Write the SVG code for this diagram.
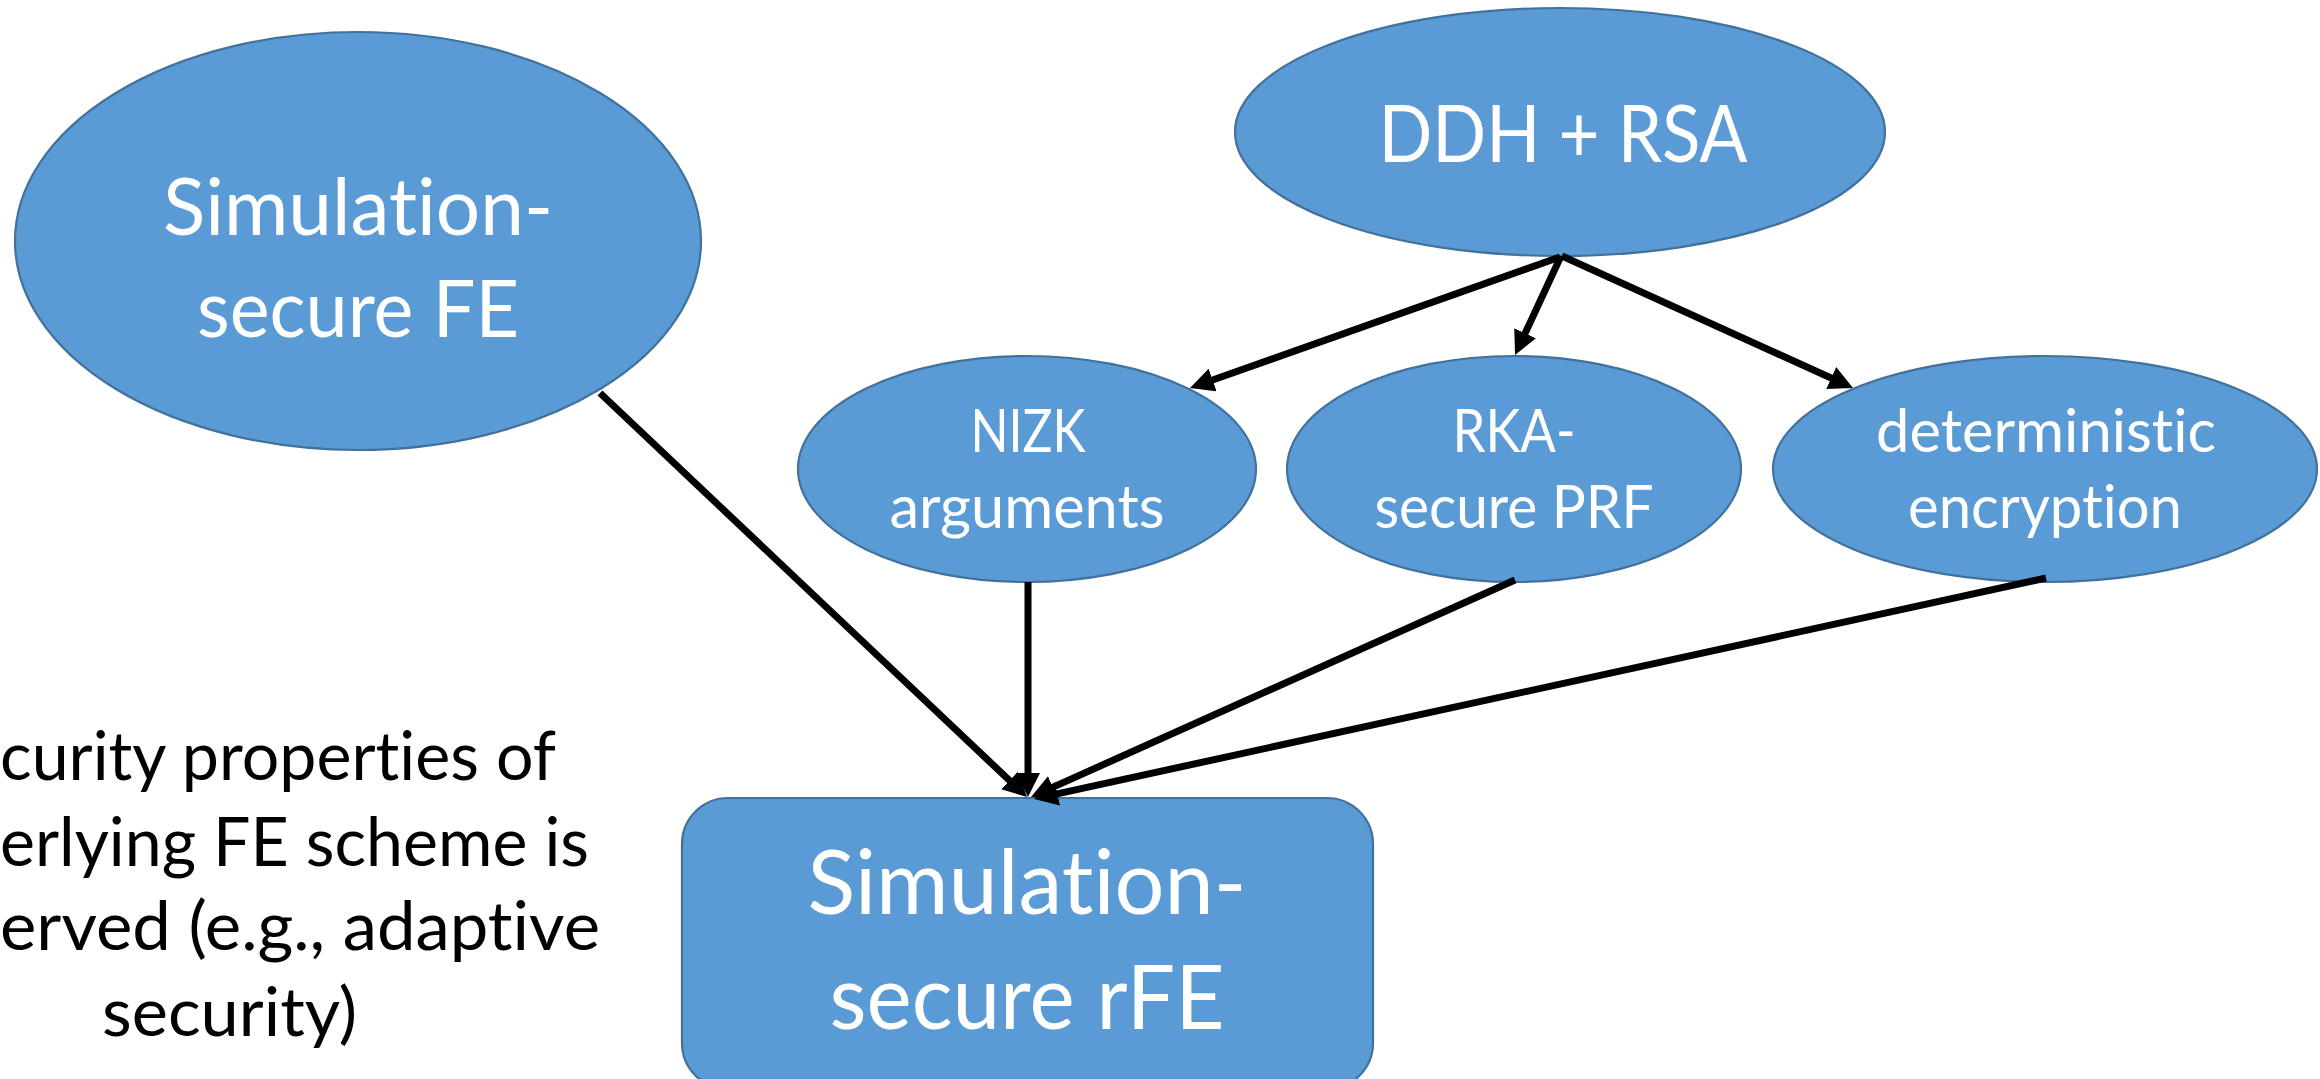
<svg xmlns="http://www.w3.org/2000/svg" width="2320" height="1079" viewBox="0 0 2320 1079">
  <style>
    .node { fill: #5B9BD5; stroke: #41719C; stroke-width: 2.2; }
    .lbl { fill: #FFFFFF; font-family: Lato, "Open Sans", "Liberation Sans", sans-serif; text-anchor: middle; font-variant-ligatures: none; }
    .big { font-size: 80px; }
    .small { font-size: 60px; }
    .huge { font-size: 90px; }
    .note { fill: #000000; font-family: Lato, "Open Sans", "Liberation Sans", sans-serif; font-size: 68px; font-variant-ligatures: none; }
    .edge { fill: none; stroke: #000000; stroke-width: 7; marker-end: url(#head); }
  </style>
  <defs>
    <marker id="head" markerUnits="userSpaceOnUse" markerWidth="28" markerHeight="28" refX="12" refY="12" orient="auto">
      <path d="M0,0 L24,12 L0,24 z" fill="#000000"/>
    </marker>
  </defs>

  <rect width="2320" height="1079" fill="#FFFFFF"/>

  <!-- side note, running off the left edge -->
  <g id="note">
    <text class="note" x="0" y="780" textLength="556" lengthAdjust="spacingAndGlyphs">curity properties of</text>
    <text class="note" x="0" y="866" textLength="589" lengthAdjust="spacingAndGlyphs">erlying FE scheme is</text>
    <text class="note" x="0" y="950" textLength="600" lengthAdjust="spacingAndGlyphs">erved (e.g., adaptive</text>
    <text class="note" x="229.5" y="1036" text-anchor="middle" textLength="255" lengthAdjust="spacingAndGlyphs">security)</text>
  </g>

  <g id="sim-fe">
    <ellipse class="node" cx="358" cy="241" rx="343" ry="209"/>
    <text class="lbl big" x="358" y="235" textLength="390" lengthAdjust="spacingAndGlyphs">Simulation-</text>
    <text class="lbl big" x="358" y="337" textLength="322" lengthAdjust="spacingAndGlyphs">secure FE</text>
  </g>

  <g id="ddh-rsa">
    <ellipse class="node" cx="1560" cy="132" rx="325" ry="124"/>
    <text class="lbl big" x="1563" y="162" textLength="369" lengthAdjust="spacingAndGlyphs">DDH + RSA</text>
  </g>

  <g id="nizk">
    <ellipse class="node" cx="1027" cy="469" rx="229" ry="113"/>
    <text class="lbl small" x="1028" y="452" textLength="115" lengthAdjust="spacingAndGlyphs">NIZK</text>
    <text class="lbl small" x="1027" y="528" textLength="275" lengthAdjust="spacingAndGlyphs">arguments</text>
  </g>

  <g id="rka-prf">
    <ellipse class="node" cx="1514" cy="469" rx="227" ry="113"/>
    <text class="lbl small" x="1514" y="452" textLength="123" lengthAdjust="spacingAndGlyphs">RKA-</text>
    <text class="lbl small" x="1514" y="528" textLength="279" lengthAdjust="spacingAndGlyphs">secure PRF</text>
  </g>

  <g id="det-enc">
    <ellipse class="node" cx="2045" cy="469" rx="272" ry="113"/>
    <text class="lbl small" x="2046" y="452" textLength="340" lengthAdjust="spacingAndGlyphs">deterministic</text>
    <text class="lbl small" x="2045" y="528" textLength="274" lengthAdjust="spacingAndGlyphs">encryption</text>
  </g>

  <g id="sim-rfe">
    <rect class="node" x="682" y="798" width="691" height="291" rx="46" ry="46"/>
    <text class="lbl huge" x="1027" y="914" textLength="439" lengthAdjust="spacingAndGlyphs">Simulation-</text>
    <text class="lbl huge" x="1027" y="1029" textLength="395" lengthAdjust="spacingAndGlyphs">secure rFE</text>
  </g>

  <g id="connectors">
    <path class="edge" d="M1560,257 L1201.3,384"/>
    <path class="edge" d="M1561,256 L1520.1,344.1"/>
    <path class="edge" d="M1562,256 L1842.1,383"/>
    <path class="edge" d="M600,393 L1018.3,788.8"/>
    <path class="edge" d="M1028,582 L1028,785"/>
    <path class="edge" d="M1515,580 L1041.95,792.09"/>
    <path class="edge" d="M2046,578 L1045.7,796.4"/>
  </g>
</svg>
